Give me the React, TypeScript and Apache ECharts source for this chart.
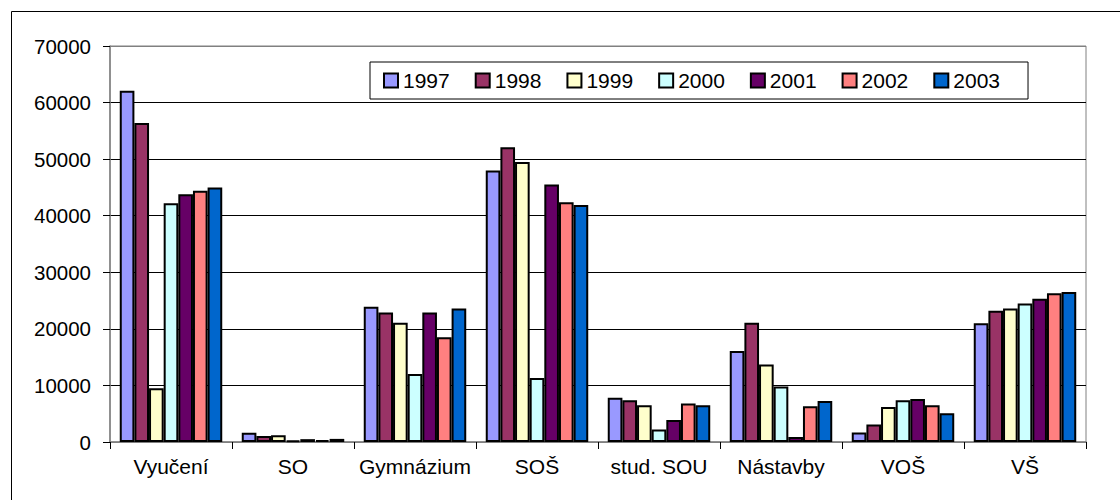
import React, { useEffect, useRef } from "react";
import * as echarts from "echarts";

const categories = ["Vyučení", "SO", "Gymnázium", "SOŠ", "stud. SOU", "Nástavby", "VOŠ", "VŠ"];
const years = ["1997", "1998", "1999", "2000", "2001", "2002", "2003"];
const colors = ["#9999FF", "#993366", "#FFFFCC", "#CCFFFF", "#660066", "#FF8080", "#0066CC"];

const v1997 = [62100, 1650, 23900, 48000, 7800, 16100, 1700, 21000];
const v1998 = [56400, 1050, 22900, 52100, 7400, 21100, 3100, 23200];
const v1999 = [9500, 1200, 21100, 49500, 6500, 13700, 6200, 23600];
const v2000 = [42200, 300, 12000, 11300, 2200, 9800, 7400, 24500];
const v2001 = [43800, 500, 22900, 45500, 3900, 900, 7600, 25300];
const v2002 = [44400, 350, 18500, 42400, 6800, 6300, 6500, 26300];
const v2003 = [45000, 550, 23600, 41900, 6500, 7250, 5100, 26500];
const seriesValues = [v1997, v1998, v1999, v2000, v2001, v2002, v2003];

const FONT = "Arial, 'Liberation Sans', sans-serif";

export default function App() {
  const ref = useRef<HTMLDivElement>(null);
  useEffect(() => {
    if (!ref.current) return;
    const chart = echarts.init(ref.current, undefined, { renderer: "svg" });
    chart.setOption({
      animation: false,
      backgroundColor: "#ffffff",
      textStyle: { fontFamily: FONT },
      graphic: [
        {
          type: "rect",
          shape: { x: 11.5, y: 11.5, width: 1300, height: 700 },
          style: { fill: "none", stroke: "#000", lineWidth: 1 },
          silent: true,
        },
      ],
      legend: {
        show: true,
        left: 370,
        top: 62,
        orient: "horizontal",
        data: years,
        icon: "rect",
        itemWidth: 14,
        itemHeight: 14,
        itemGap: 25,
        padding: [8, 28, 8, 13],
        borderColor: "#000",
        borderWidth: 1,
        backgroundColor: "#fff",
        textStyle: { fontSize: 21, color: "#000", fontFamily: FONT },
      },
      grid: {
        left: 110,
        right: 34,
        top: 46,
        bottom: 58,
        show: true,
        borderColor: "#808080",
        borderWidth: 1,
        backgroundColor: "transparent",
      },
      xAxis: {
        type: "category",
        data: categories,
        boundaryGap: true,
        axisLine: { show: true, lineStyle: { color: "#808080", width: 1.5 } },
        axisTick: { show: true, length: 7, alignWithLabel: false, lineStyle: { color: "#000" } },
        axisLabel: { fontSize: 21, color: "#000", margin: 14, fontFamily: FONT, interval: 0 },
      },
      yAxis: {
        type: "value",
        min: 0,
        max: 70000,
        interval: 10000,
        axisLine: { show: true, lineStyle: { color: "#808080", width: 1.5 } },
        axisTick: { show: true, length: 7, lineStyle: { color: "#000" } },
        axisLabel: {
          fontSize: 20.5,
          color: "#000",
          margin: 19,
          fontFamily: FONT,
          formatter: (v: number) => String(v),
        },
        splitLine: {
          show: true,
          lineStyle: {
            color: ["#808080", "#000", "#000", "#000", "#000", "#000", "#000", "#808080"],
            width: 1,
          },
        },
      },
      series: years.map((y, i) => ({
        name: y,
        type: "bar",
        data: seriesValues[i],
        barGap: "0%",
        barCategoryGap: "16%",
        itemStyle: { color: colors[i], borderColor: "#000", borderWidth: 2 },
      })),
    });
    return () => chart.dispose();
  }, []);
  return (
    <div
      ref={ref}
      style={{ position: "fixed", left: 0, top: 0, width: 1120, height: 500 }}
    />
  );
}
